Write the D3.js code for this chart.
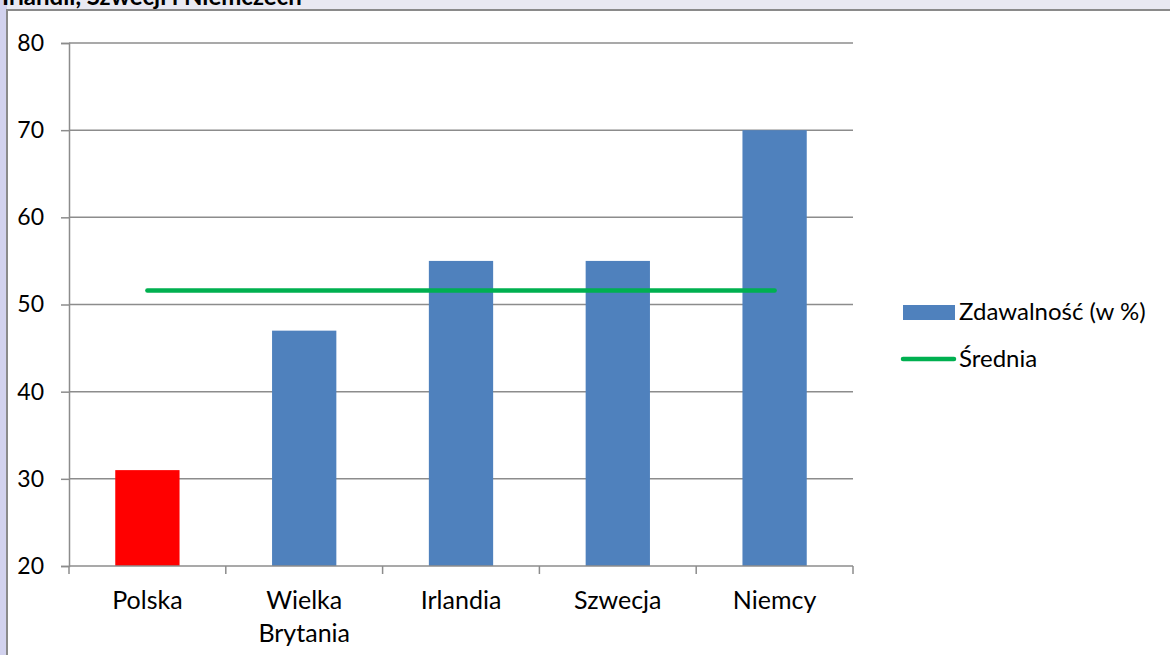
<!DOCTYPE html>
<html>
<head>
<meta charset="utf-8">
<script src="https://cdn.jsdelivr.net/npm/d3@7"></script>
<style>
  html, body { margin: 0; padding: 0; background: #ffffff; }
  svg { display: block; }
  text { font-family: Lato, "Open Sans", sans-serif; fill: #000; }
</style>
</head>
<body>
<svg id="chart" width="1170" height="655"></svg>
<script>
// Pass rates per country (in %)
const categories = ["Polska", "Wielka Brytania", "Irlandia", "Szwecja", "Niemcy"];
const passRates = [31, 47, 55, 55, 70];
const barColors = ["#ff0000", "#4f81bd", "#4f81bd", "#4f81bd", "#4f81bd"];
const yTicks = [20, 30, 40, 50, 60, 70, 80];
const seriesNames = ["Zdawalność (w %)", "Średnia"];
const titleText = "Irlandii, Szwecji i Niemczech";

const average = d3.mean(passRates);

const svg = d3.select("#chart");
const W = 1170, H = 655;

// Window frame around the chart (the title scrolls above the visible area)
svg.append("rect").attr("x", 0).attr("y", 0).attr("width", W).attr("height", 10).attr("fill", "#e9e9f2");
svg.append("rect").attr("x", 0).attr("y", 0).attr("width", 7).attr("height", H).attr("fill", "#d2d2ee");
svg.append("text")
  .attr("x", 2).attr("y", 5)
  .attr("font-size", 24).attr("font-weight", "bold")
  .text(titleText);
svg.append("line").attr("x1", 6).attr("x2", W).attr("y1", 10).attr("y2", 10)
  .attr("stroke", "#8a8a8a").attr("stroke-width", 2);
svg.append("line").attr("x1", 7).attr("x2", 7).attr("y1", 9).attr("y2", H)
  .attr("stroke", "#8a8a8a").attr("stroke-width", 2);

const plot = { left: 69, right: 853, top: 43, bottom: 566 };

const x = d3.scaleBand().domain(categories).range([plot.left, plot.right]).paddingInner(0.59).paddingOuter(0.295);
const xc = d3.scaleBand().domain(categories).range([plot.left, plot.right]);
const y = d3.scaleLinear().domain([20, 80]).range([plot.bottom, plot.top]);

const gridColor = "#8c8c8c";

// Horizontal gridlines
svg.append("g")
  .selectAll("line")
  .data(yTicks.filter(d => d !== 20))
  .join("line")
  .attr("x1", plot.left).attr("x2", plot.right)
  .attr("y1", d => y(d)).attr("y2", d => y(d))
  .attr("stroke", gridColor).attr("stroke-width", 1.5);

// Y axis
const yAxis = svg.append("g")
  .attr("transform", `translate(${plot.left},0)`)
  .call(d3.axisLeft(y).tickValues(yTicks).tickSize(8).tickPadding(17).tickFormat(d3.format("d")));
yAxis.select(".domain").attr("stroke", gridColor).attr("stroke-width", 1.5);
yAxis.selectAll(".tick line").attr("stroke", gridColor).attr("stroke-width", 1.5);
yAxis.selectAll(".tick text").attr("font-size", 23).attr("font-family", "Lato, sans-serif").attr("fill", "#000");

// Bars
svg.append("g")
  .selectAll("rect")
  .data(categories)
  .join("rect")
  .attr("x", d => x(d))
  .attr("width", x.bandwidth())
  .attr("y", (d, i) => y(passRates[i]))
  .attr("height", (d, i) => y(20) - y(passRates[i]))
  .attr("fill", (d, i) => barColors[i]);

// X axis with ticks on band boundaries
svg.append("line")
  .attr("x1", plot.left).attr("x2", plot.right)
  .attr("y1", plot.bottom).attr("y2", plot.bottom)
  .attr("stroke", gridColor).attr("stroke-width", 1.5);
const bounds = categories.map(c => xc(c)).concat([plot.right]);
svg.append("g")
  .selectAll("line")
  .data(bounds)
  .join("line")
  .attr("x1", d => d).attr("x2", d => d)
  .attr("y1", plot.bottom).attr("y2", plot.bottom + 8)
  .attr("stroke", gridColor).attr("stroke-width", 1.5);

// Category labels (wrapped on spaces for two-word names)
const labels = svg.append("g")
  .selectAll("text")
  .data(categories)
  .join("text")
  .attr("text-anchor", "middle")
  .attr("font-size", 25)
  .attr("x", d => xc(d) + xc.bandwidth() / 2)
  .attr("y", 609);
labels.each(function (d) {
  const words = d.split(" ");
  const t = d3.select(this);
  words.forEach((w, i) => {
    t.append("tspan")
      .attr("x", xc(d) + xc.bandwidth() / 2)
      .attr("dy", i === 0 ? 0 : 33)
      .text(w);
  });
});

// Average line across the categories
const line = d3.line()
  .x(d => xc(d) + xc.bandwidth() / 2)
  .y(() => y(average));
svg.append("path")
  .datum(categories)
  .attr("d", line)
  .attr("fill", "none")
  .attr("stroke", "#00b050")
  .attr("stroke-width", 4.5)
  .attr("stroke-linecap", "round");

// Legend
const legend = svg.append("g");
legend.append("rect")
  .attr("x", 903).attr("y", 305).attr("width", 52).attr("height", 15)
  .attr("fill", "#4f81bd");
legend.append("text")
  .attr("x", 959).attr("y", 320).attr("font-size", 24)
  .text(seriesNames[0]);
legend.append("line")
  .attr("x1", 903).attr("x2", 954).attr("y1", 359).attr("y2", 359)
  .attr("stroke", "#00b050").attr("stroke-width", 4.5).attr("stroke-linecap", "round");
legend.append("text")
  .attr("x", 959).attr("y", 367).attr("font-size", 24)
  .text(seriesNames[1]);
</script>
</body>
</html>
